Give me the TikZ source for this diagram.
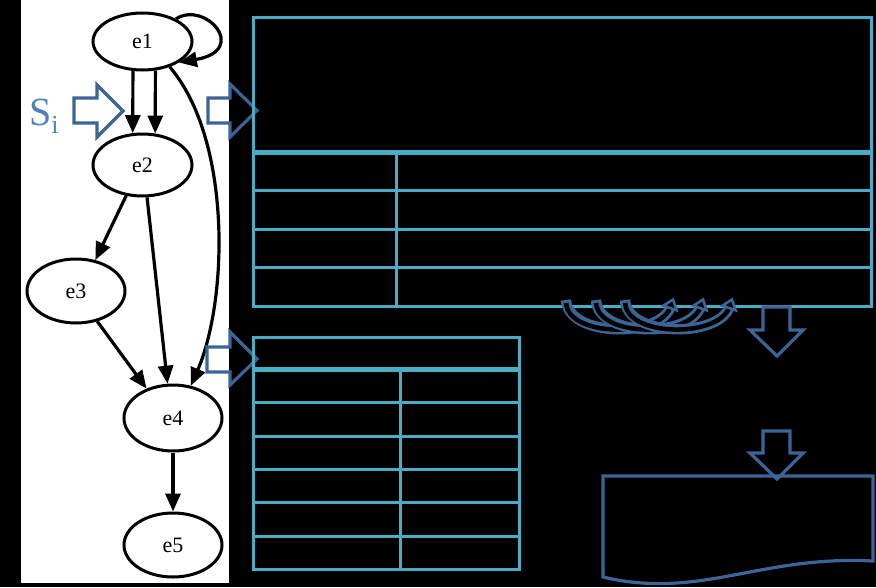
\documentclass[tikz,border=0pt]{standalone}
\usepackage{fontspec}
\setmainfont{Liberation Serif}
\usetikzlibrary{arrows.meta,shapes.geometric}
\definecolor{tbl}{RGB}{75,172,198}
\definecolor{barrow}{RGB}{60,100,150}
\definecolor{stxt}{RGB}{79,129,189}
\begin{document}
\begin{tikzpicture}[x=1pt,y=-1pt,
  gnode/.style={ellipse, draw=black, line width=3pt, fill=white, inner sep=0pt,
    font=\fontsize{22}{24}\selectfont},
  edge/.style={line width=3.2pt, draw=black, -{Triangle[length=18pt,width=15pt]}},
  tline/.style={draw=tbl, line width=3pt},
  thead/.style={draw=tbl, line width=5pt},
  blockarrow/.style={draw=barrow, line width=3.2pt, line join=miter},
  bandout/.style={draw=barrow, line width=10.5pt},
  bandin/.style={draw=black, line width=4.5pt, shorten <=3pt},
  bandhead/.style={draw=barrow, fill=black, line width=2.6pt, line join=miter}
]
\useasboundingbox (0,0) rectangle (876,587);
\fill[black] (0,0) rectangle (876,587);
\fill[white] (21,0) rectangle (229,583);

% graph nodes
\node[gnode, minimum width=99pt, minimum height=57pt] (e1) at (142.5,41.5) {e1};
\node[gnode, minimum width=99pt, minimum height=62pt] (e2) at (142.5,165) {e2};
\node[gnode, minimum width=98pt, minimum height=64pt] (e3) at (76,291) {e3};
\node[gnode, minimum width=98pt, minimum height=66pt] (e4) at (173,418) {e4};
\node[gnode, minimum width=98pt, minimum height=64pt] (e5) at (173,545) {e5};

% graph edges
\draw[edge] (e1.34) .. controls (205,0) and (250,50) .. (e1.-30);
\draw[edge] (e1.-108) -- (e2.107);
\draw[edge] (e1.-66) -- (e2.68);
\draw[edge] (e1.-43) .. controls (232,140) and (228,300) .. (e4.61);
\draw[edge] (e2.-118) -- (e3.58);
\draw[edge] (e2.-82) -- (e4.99);
\draw[edge] (e3.-55) -- (e4.132);
\draw[edge] (e4) -- (e5);

% S_i label
\node[text=stxt, inner sep=0pt, anchor=base west] (si) at (29,125)
  {\fontsize{40}{40}\selectfont S\raisebox{-8pt}{\fontsize{26}{26}\selectfont i}};

% right block arrows
\draw[blockarrow] (74,98) -- (97,98) -- (97,85) -- (123,111) -- (97,137) -- (97,123) -- (74,123) -- cycle;
\draw[blockarrow] (208,98) -- (230,98) -- (230,84) -- (257,110.5) -- (230,137) -- (230,123) -- (208,123) -- cycle;
\draw[blockarrow] (207,347) -- (230,347) -- (230,332) -- (257,359) -- (230,385) -- (230,372) -- (207,372) -- cycle;

% upper table
\draw[tline] (253,17) rectangle (871,306);
\draw[tline] (396,152) -- (396,306);
\draw[tline] (253,190) -- (871,190);
\draw[tline] (253,229) -- (871,229);
\draw[tline] (253,267) -- (871,267);
\draw[thead] (253,152) -- (871,152);

% lower table
\draw[tline] (253,337) rectangle (519,569);
\draw[tline] (400,369) -- (400,569);
\foreach \yy in {402,436,469,502,536} \draw[tline] (253,\yy) -- (519,\yy);
\draw[thead] (253,369) -- (519,369);

% curved arrows
\foreach \xx in {566,596,625} {
  \begin{scope}[shift={(\xx,300)}]
    \draw[bandout] (0,0) .. controls (2,37) and (92,38) .. (104,8);
    \draw[bandin] (0,0) .. controls (2,37) and (92,38) .. (104,8);
    \draw[bandhead] (107,-0.5) -- (110.6,10.3) -- (97.4,5.7) -- cycle;
  \end{scope}
}

% down block arrows
\draw[blockarrow] (763,307) -- (790,307) -- (790,330) -- (803,330) -- (777,356) -- (750,330) -- (763,330) -- cycle;
\draw[blockarrow] (763,431) -- (790,431) -- (790,453) -- (803,453) -- (777,479) -- (750,453) -- (763,453) -- cycle;

% document shape
\draw[blockarrow] (603,476) -- (873,476) -- (873,561) .. controls (760,555) and (700,600) .. (603,577) -- cycle;
\end{tikzpicture}
\end{document}
